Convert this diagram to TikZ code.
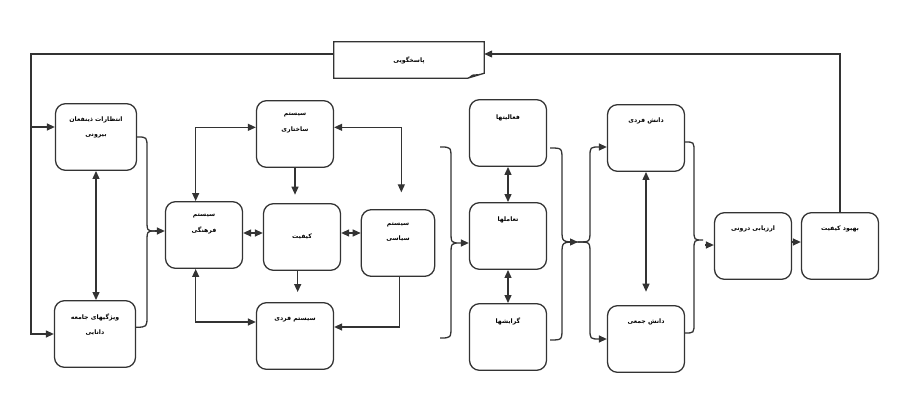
\documentclass[tikz,border=0pt]{standalone}
\usepackage{fontspec}
\newfontfamily\arabicfont[Script=Arabic]{DejaVu Sans}
\TeXXeTstate=1
\newcommand{\fatxt}[1]{{\arabicfont\bfseries\beginR #1\endR}}
\usetikzlibrary{arrows.meta}
\usetikzlibrary{positioning}
\tikzset{blk/.style={draw=black!80, line width=1.1pt, rounded corners=0.3cm,
   minimum width=2.31cm, minimum height=2cm},
 lbl/.style={inner sep=0pt, align=center, font=\fontsize{5.3}{13}\selectfont},
 con/.style={draw=black!80, line width=1.1pt},
 arr/.style={con, -{Triangle[length=2.4mm,width=2.1mm]}},
 darr/.style={con, {Triangle[length=2.4mm,width=2.1mm]}-{Triangle[length=2.4mm,width=2.1mm]}},
}

\begin{document}
\begin{tikzpicture}[x=0.03cm, y=-0.03cm]
    \useasboundingbox (0,0) rectangle (907,399);

    % feedback box
    \node[lbl, minimum width=4.5cm, minimum height=1.08cm] (pasokh) at (409,60) {\fatxt{پاسخگویی}};
    \draw[con] (pasokh.north west) -- (pasokh.north east) -- ([yshift=0.15cm]pasokh.south east)
        -- ([xshift=-0.5cm]pasokh.south east) -- (pasokh.south west) -- cycle;
    \fill[black!80] ([xshift=-0.5cm]pasokh.south east) -- ([xshift=-0.36cm,yshift=0.11cm]pasokh.south east)
        -- ([xshift=-0.12cm,yshift=0.13cm]pasokh.south east) -- cycle;

    % column 1
    \node[blk, minimum width=2.43cm] (entezar) at (96,137) {};
    \node[lbl, below=0.4cm of entezar.north] (entezarT) {\fatxt{انتظارات ذینفعان}\\\fatxt{بیرونی}};
    \node[blk, minimum width=2.43cm] (vizhegi) at (95,334) {};
    \node[lbl, below=0.4cm of vizhegi.north] (vizhegiT) {\fatxt{ویژگیهای جامعه}\\\fatxt{دانایی}};

    % column 2
    \node[blk] (farhangi) at (204,235) {};
    \node[lbl, below=0.38cm of farhangi.north] (farhangiT) {\fatxt{سیستم}\\\fatxt{فرهنگی}};
    \node[blk] (sakhtari) at (295,134) {};
    \node[lbl, below=0.38cm of sakhtari.north] (sakhtariT) {\fatxt{سیستم}\\\fatxt{ساختاری}};
    \node[blk, lbl, draw=black!80, line width=1.1pt] (keyfiyat) at (302,237) {\fatxt{کیفیت}};
    \node[blk, minimum width=2.2cm] (siyasi) at (398,243) {};
    \node[lbl, below=0.4cm of siyasi.north] (siyasiT) {\fatxt{سیستم}\\\fatxt{سیاسی}};
    \node[blk] (fardi) at (295,336) {};
    \node[lbl, below=0.42cm of fardi.north] (fardiT) {\fatxt{سیستم فردی}};

    % column 3
    \node[blk] (faaliyat) at (508,133) {};
    \node[lbl, below=0.48cm of faaliyat.north] (faaliyatT) {\fatxt{فعالیتها}};
    \node[blk] (taamol) at (508,236) {};
    \node[lbl, below=0.45cm of taamol.north] (taamolT) {\fatxt{تعاملها}};
    \node[blk] (gerayesh) at (508,337) {};
    \node[lbl, below=0.45cm of gerayesh.north] (gerayeshT) {\fatxt{گرایشها}};

    % column 4
    \node[blk] (dfardi) at (646,138) {};
    \node[lbl, below=0.4cm of dfardi.north] (dfardiT) {\fatxt{دانش فردی}};
    \node[blk] (djamei) at (646,339) {};
    \node[lbl, below=0.42cm of djamei.north] (djameiT) {\fatxt{دانش جمعی}};
    \node[blk] (arzyabi) at (753,246) {};
    \node[lbl, below=0.42cm of arzyabi.north] (arzyabiT) {\fatxt{ارزیابی درونی}};
    \node[blk] (behbud) at (840,246) {};
    \node[lbl, below=0.42cm of behbud.north] (behbudT) {\fatxt{بهبود کیفیت}};

    % feedback loop
    \coordinate (loopL) at (31,54);
    \coordinate (loopE) at (31,127);
    \draw[arr] ([yshift=0.18cm]pasokh.west) -- (loopL) |- (vizhegi.west);
    \draw[arr] (loopE) -- (loopE -| entezar.west);
    \draw[arr] (behbud.north) |- ([yshift=0.18cm]pasokh.east);

    \draw[darr] (entezar.south) -- (entezar.south |- vizhegi.north);

    % brace into farhangi
    \coordinate (tip1) at (155,231);
    \draw[con] (entezar.east) .. controls (147,137) .. (147,148) -- (147,219) .. controls (147,231) .. (tip1);
    \draw[con] ([yshift=0.2cm]vizhegi.east) .. controls (147,327) .. (147,316) -- (147,243) .. controls (147,231) .. (tip1);
    \draw[arr] (tip1) -- (tip1 -| farhangi.west);

    % systems around keyfiyat
    \draw[darr] ([yshift=0.2cm]sakhtari.west) -| ([xshift=-0.25cm]farhangi.north);
    \draw[darr, shorten >=0.5cm] ([yshift=0.2cm]sakhtari.east) -| ([xshift=0.1cm]siyasi.north);
    \draw[arr, shorten >=0.25cm] (sakhtari.south) -- (sakhtari.south |- keyfiyat.north);
    \draw[darr] ([yshift=0.12cm]keyfiyat.west) -- ([yshift=0.12cm]keyfiyat.west -| farhangi.east);
    \draw[darr] ([yshift=0.12cm]keyfiyat.east) -- ([yshift=0.12cm]keyfiyat.east -| siyasi.west);
    \draw[arr, shorten >=0.3cm] ([xshift=-0.13cm]keyfiyat.south) -- ([xshift=-0.13cm]keyfiyat.south |- fardi.north);
    \draw[darr] ([xshift=-0.25cm]farhangi.south) |- ([yshift=0.42cm]fardi.west);
    \draw[arr] ([xshift=0.05cm]siyasi.south) |- ([yshift=0.27cm]fardi.east);

    % brace into taamol
    \coordinate (b3top) at (440,147);
    \coordinate (b3bot) at (440,338);
    \coordinate (tip3) at (461,243);
    \draw[con] (b3top) .. controls (451,147) .. (451,159) -- (451,231) .. controls (451,243) .. (tip3)
        .. controls (451,243) .. (451,255) -- (451,326) .. controls (451,338) .. (b3bot);
    \draw[arr] (tip3) -- (tip3 -| taamol.west);

    \draw[darr] (faaliyat.south) -- (taamol.north);
    \draw[darr] (taamol.south) -- (gerayesh.north);

    % braces between column 3 and 4
    \coordinate (b4top) at (550,148);
    \coordinate (b4bot) at (550,340);
    \coordinate (tip4) at (578,242);
    \coordinate (tip4a) at (570,242);
    \draw[con] (b4top) .. controls (562,148) .. (562,160) -- (562,230) .. controls (562,242) .. (tip4)
        .. controls (562,242) .. (562,254) -- (562,328) .. controls (562,340) .. (b4bot);
    \draw[arr] (tip4a) -- (tip4);
    \draw[arr] (tip4) .. controls (590,242) .. (590,230) -- (590,157) .. controls (590,147) .. (600,147)
        -- ([yshift=-0.27cm]dfardi.west);
    \draw[arr] (tip4) .. controls (590,242) .. (590,254) -- (590,329) .. controls (590,339) .. (600,339)
        -- (djamei.west);

    \draw[darr, shorten >=0.4cm] (dfardi.south) -- (djamei.north);

    % brace into arzyabi
    \coordinate (tip5) at (703,240);
    \coordinate (stub5) at (705,245);
    \draw[con] ([yshift=-0.12cm]dfardi.east) .. controls (694,142) .. (694,152) -- (694,230) .. controls (694,240) .. (tip5)
        .. controls (694,240) .. (694,250) -- (694,323) .. controls (694,333) .. ([yshift=0.18cm]djamei.east);
    \draw[arr] (stub5) -- (stub5 -| arzyabi.west);

    \draw[arr] ([yshift=0.12cm]arzyabi.east) -- ([yshift=0.12cm]arzyabi.east -| behbud.west);
\end{tikzpicture}
\end{document}
